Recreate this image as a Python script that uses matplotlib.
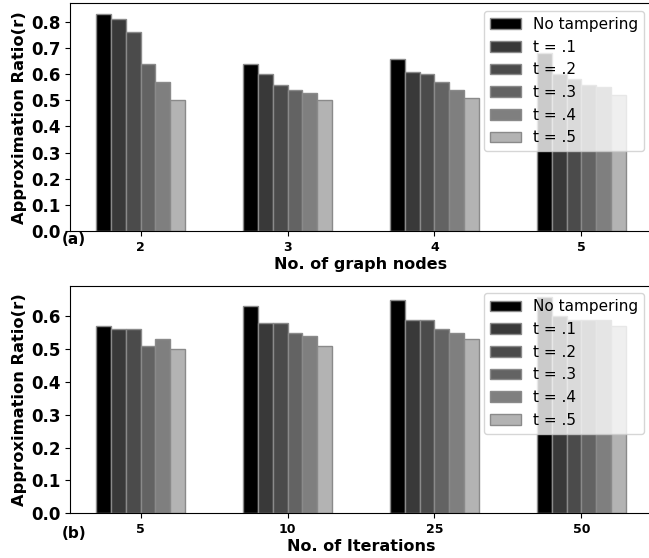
import matplotlib
matplotlib.use("Agg")
import matplotlib.pyplot as plt
import numpy as np

nodes_labels = ["2", "3", "4", "5"]
iter_labels = ["5", "10", "25", "50"]
series_names = ["No tampering", "t = .1", "t = .2", "t = .3", "t = .4", "t = .5"]
colors = ["#000000", "#393939", "#4b4b4b", "#636363", "#7f7f7f", "#b3b3b3"]

nodes_vals = [
    [0.83, 0.64, 0.66, 0.68],
    [0.81, 0.60, 0.61, 0.60],
    [0.76, 0.56, 0.60, 0.58],
    [0.64, 0.54, 0.57, 0.56],
    [0.57, 0.53, 0.54, 0.55],
    [0.50, 0.50, 0.51, 0.52],
]
iter_vals = [
    [0.57, 0.63, 0.65, 0.66],
    [0.56, 0.58, 0.59, 0.60],
    [0.56, 0.58, 0.59, 0.59],
    [0.51, 0.55, 0.56, 0.59],
    [0.53, 0.54, 0.55, 0.59],
    [0.50, 0.51, 0.53, 0.57],
]

W, H = 649, 558
fig = plt.figure(figsize=(W / 100, H / 100), dpi=100)

def px_axes(left, top, right, bottom):
    return fig.add_axes([left / W, 1 - bottom / H, (right - left) / W, (bottom - top) / H])

ax1 = px_axes(70, 3.3, 652, 231)
ax2 = px_axes(70, 285.7, 652, 513.3)

def draw(ax, labels, vals, xlabel, yticks):
    x = np.arange(len(labels))
    w = 0.1
    for i, (name, c, v) in enumerate(zip(series_names, colors, vals)):
        ax.bar(x + (i - 2.5) * w, v, width=w, color=c, edgecolor="#8a8a8a",
               linewidth=1, label=name)
    ax.set_xticks(x)
    ax.set_xticklabels(labels, fontsize=9, fontweight="bold")
    ax.set_yticks(yticks)
    plt.setp(ax.get_yticklabels(), fontweight="bold", fontsize=12)
    ax.set_ylabel("Approximation Ratio(r)", fontsize=11.7, fontweight="bold", labelpad=3)
    ax.set_xlabel(xlabel, fontsize=11.5, fontweight="bold", labelpad=2)
    ax.legend(loc="upper right", fontsize=11)

draw(ax1, nodes_labels, nodes_vals, "No. of graph nodes", np.arange(0, 0.81, 0.1))
draw(ax2, iter_labels, iter_vals, "No. of Iterations", np.arange(0, 0.61, 0.1))

fig.text(62 / W, 1 - 239 / H, "(a)", fontsize=11, fontweight="bold", va="center", ha="left")
fig.text(62 / W, 1 - 533 / H, "(b)", fontsize=11, fontweight="bold", va="center", ha="left")

fig.savefig("out.png", dpi=100)
